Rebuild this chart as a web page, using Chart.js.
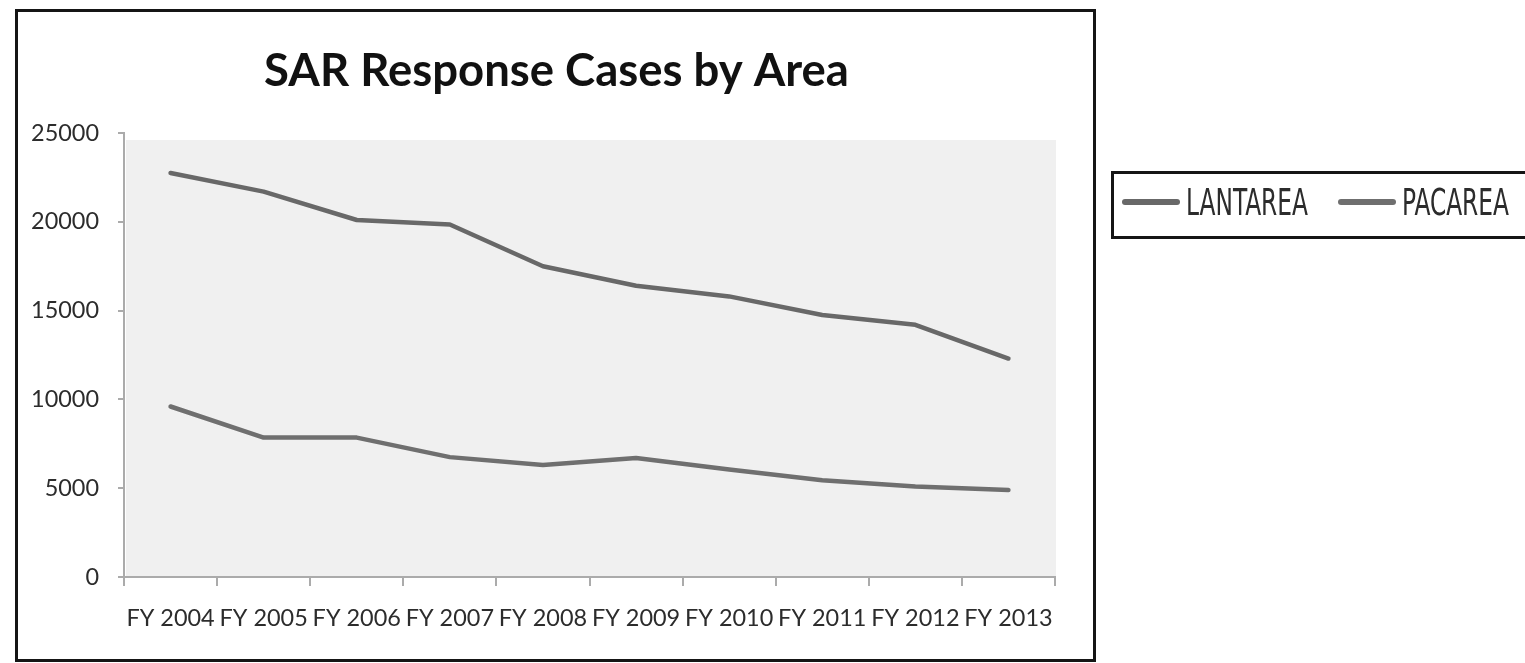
<!DOCTYPE html>
<html>
<head>
<meta charset="utf-8">
<script src="https://cdn.jsdelivr.net/npm/chart.js@4.4.1/dist/chart.umd.min.js"></script>
<style>
html,body{margin:0;padding:0;background:#fff;width:1525px;height:663px;overflow:hidden;}
#frame{position:absolute;left:15px;top:9px;width:1081px;height:653px;border:3px solid #151515;box-sizing:border-box;}
#wrap{position:absolute;left:0;top:0;width:1525px;height:663px;}
#legend{position:absolute;left:1111px;top:171px;width:440px;height:68px;border:3px solid #151515;box-sizing:border-box;}
.sw{position:absolute;height:6px;border-radius:3px;}
.lt{position:absolute;white-space:nowrap;transform-origin:0 0;color:#2c2c2c;font-family:"DejaVu Sans Condensed","DejaVu Sans",sans-serif;font-size:37px;line-height:37px;}
</style>
</head>
<body>
<div id="frame"></div>
<div id="legend"></div>
<div id="wrap"><canvas id="c" width="1525" height="663"></canvas></div>
<script>
// ---- data ----
const categories = ['FY 2004','FY 2005','FY 2006','FY 2007','FY 2008','FY 2009','FY 2010','FY 2011','FY 2012','FY 2013'];
const lantarea = [22750, 21700, 20100, 19850, 17500, 16400, 15800, 14750, 14200, 12300];
const pacarea  = [9600, 7850, 7850, 6750, 6300, 6700, 6050, 5450, 5100, 4900];
const seriesNames = ['LANTAREA', 'PACAREA'];
const yTicks = [0, 5000, 10000, 15000, 20000, 25000];
const titleText = 'SAR Response Cases by Area';

// ---- helpers ----
function fitSize(text, weight, family, target) {
  const ctx = document.createElement('canvas').getContext('2d');
  ctx.font = weight + ' 100px ' + family;
  return 100 * target / ctx.measureText(text).width;
}
const titleSize = fitSize(titleText, 'bold', 'Lato', 585);
const tickSize = fitSize('25000', 'normal', 'Lato', 68);

const titleMid = 71;
const plotTop = 133;
const titlePadTop = titleMid - 0.6 * titleSize;
const titlePadBottom = plotTop - 1.2 * titleSize - titlePadTop;

const plotBg = {
  id: 'plotBg',
  beforeDraw(chart) {
    const a = chart.chartArea, ctx = chart.ctx;
    ctx.save();
    ctx.fillStyle = '#f0f0f0';
    ctx.fillRect(a.left + 2, a.top + 7, a.right - a.left - 1, a.bottom - a.top - 7);
    ctx.restore();
  }
};

const chart = new Chart(document.getElementById('c'), {
  type: 'line',
  data: {
    labels: categories,
    datasets: [
      { label: seriesNames[0], data: lantarea, borderColor: '#686868', backgroundColor: '#686868', borderWidth: 4.5, pointRadius: 0, tension: 0, borderCapStyle: 'round', borderJoinStyle: 'round' },
      { label: seriesNames[1], data: pacarea, borderColor: '#6f6f6f', backgroundColor: '#6f6f6f', borderWidth: 4.5, pointRadius: 0, tension: 0, borderCapStyle: 'round', borderJoinStyle: 'round' }
    ]
  },
  options: {
    responsive: false,
    animation: false,
    layout: { padding: { left: 18, right: 430, top: 0, bottom: 26 } },
    plugins: {
      legend: { display: false },
      tooltip: { enabled: false },
      title: {
        display: true,
        text: titleText,
        color: '#111',
        font: { family: 'Lato', weight: 'bold', size: titleSize, lineHeight: 1.2 },
        padding: { top: titlePadTop, bottom: titlePadBottom }
      }
    },
    scales: {
      x: {
        offset: true,
        grid: { display: true, drawOnChartArea: false, offset: true, tickLength: 9, color: '#ababab', lineWidth: 2 },
        border: { display: true, color: '#ababab', width: 2 },
        ticks: { color: '#2c2c2c', font: { family: 'Lato', size: tickSize, lineHeight: 1.2 }, padding: 18, maxRotation: 0, autoSkip: false },
        afterFit(s) { s.height = 60; }
      },
      y: {
        min: 0, max: 25000,
        afterBuildTicks(s) { s.ticks = yTicks.map(v => ({ value: v })); },
        grid: { display: true, drawOnChartArea: false, tickLength: 6, color: '#ababab', lineWidth: 2 },
        border: { display: true, color: '#ababab', width: 2 },
        ticks: { color: '#2c2c2c', font: { family: 'Lato', size: tickSize, lineHeight: 1.2 }, padding: 19, callback: v => String(v) },
        afterFit(s) { s.width = 106; }
      },
      yRightSpacer: {
        position: 'right',
        display: true,
        grid: { display: false },
        border: { display: false },
        ticks: { display: false },
        afterFit(s) { s.width = 40; }
      }
    }
  },
  plugins: [plotBg]
});

// ---- HTML legend built from the chart's datasets ----
(function buildLegend() {
  const swLen = 58, swGap = 6, itemGap = 30, lantTarget = 122;
  let x = 1122;
  const items = chart.data.datasets.map(ds => {
    const sw = document.createElement('div');
    sw.className = 'sw';
    sw.style.background = ds.borderColor;
    document.body.appendChild(sw);
    const t = document.createElement('span');
    t.className = 'lt';
    t.textContent = ds.label;
    document.body.appendChild(t);
    return { sw, t };
  });
  const k = lantTarget / items[0].t.getBoundingClientRect().width;
  items.forEach(it => {
    const w = it.t.getBoundingClientRect().width * k;
    it.sw.style.left = x + 'px';
    it.sw.style.top = '199px';
    it.sw.style.width = swLen + 'px';
    x += swLen + swGap;
    it.t.style.left = x + 'px';
    it.t.style.top = '184px';
    it.t.style.transform = 'scaleX(' + k + ')';
    x += w + itemGap;
  });
})();
</script>
</body>
</html>
